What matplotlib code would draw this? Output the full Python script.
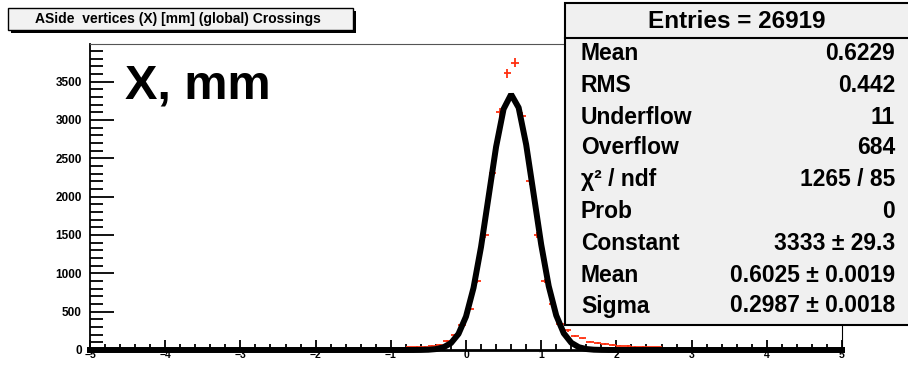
import numpy as np
import matplotlib
matplotlib.use('Agg')
from matplotlib import pyplot as plt
from matplotlib.patches import Rectangle
from matplotlib.ticker import MultipleLocator

plt.rcParams['font.family'] = ['Liberation Sans', 'DejaVu Sans']

# histogram bins (centres, width 0.1) and counts
bin_centres = [-0.75, -0.65, -0.55, -0.45, -0.35, -0.25, -0.15, -0.05,
               0.05, 0.15, 0.25, 0.35, 0.45, 0.55, 0.65, 0.75, 0.85, 0.95,
               1.05, 1.15, 1.25, 1.35, 1.45, 1.55, 1.65, 1.75, 1.85, 1.95,
               2.05, 2.15, 2.25, 2.35, 2.45, 2.55]
counts = [35, 40, 45, 55, 70, 120, 200, 320,
          540, 900, 1500, 2310, 3100, 3610, 3745, 3050, 2200, 1500,
          900, 600, 340, 255, 180, 150, 110, 90, 78, 65,
          58, 52, 45, 42, 38, 35]

# gaussian fit parameters (from the stats box)
fit_const = 3333
fit_mean = 0.6025
fit_sigma = 0.2987

title = 'ASide  vertices (X) [mm] (global) Crossings'
stat_labels = ['Mean', 'RMS', 'Underflow', 'Overflow', 'χ² / ndf', 'Prob',
               'Constant', 'Mean', 'Sigma']
stat_values = ['0.6229', '0.442', '11', '684', '1265 / 85', '0',
               '3333 ± 29.3', '0.6025 ± 0.0019', '0.2987 ± 0.0018']

W, H = 908, 368
def fx(p):
    return p / W
def fy(p):
    return 1 - p / H

fig = plt.figure(figsize=(W / 100, H / 100), dpi=100)
ax = fig.add_axes([fx(90), fy(350), fx(842) - fx(90), fy(44) - fy(350)])

x = np.linspace(-5, 5, 101)
ax.plot(x, fit_const * np.exp(-0.5 * ((x - fit_mean) / fit_sigma) ** 2),
        color='black', lw=4.3, zorder=3, clip_on=False, solid_joinstyle='bevel')
ax.errorbar(bin_centres, counts, xerr=0.05, yerr=np.sqrt(counts), fmt='none',
            ecolor='#ff3010', elinewidth=1.3, capsize=0, zorder=2)

ax.set_xlim(-5, 5)
ax.set_ylim(0, 3990)
ax.xaxis.set_major_locator(MultipleLocator(1))
ax.xaxis.set_minor_locator(MultipleLocator(0.2))
ax.yaxis.set_major_locator(MultipleLocator(500))
ax.yaxis.set_minor_locator(MultipleLocator(100))
ax.tick_params(axis='y', which='major', direction='in', length=17, width=1.3,
               labelsize=8.5, pad=6)
ax.tick_params(axis='y', which='minor', direction='in', length=9, width=1.3)
ax.tick_params(axis='x', which='major', direction='in', length=7, width=1.3,
               labelsize=7.5, pad=0)
ax.tick_params(axis='x', which='minor', direction='in', length=4, width=1.3)
for lab in ax.get_xticklabels() + ax.get_yticklabels():
    lab.set_fontweight('bold')
ax.spines['top'].set_color('#555555')
ax.spines['left'].set_linewidth(1.3)
ax.spines['bottom'].set_linewidth(2)

ax.text(fx(125), fy(98), 'X, mm', transform=fig.transFigure, fontsize=35,
        fontweight='bold', ha='left', va='baseline')

# title box with shadow
fig.patches.append(Rectangle((fx(11), fy(33)), fx(353) - fx(8), fy(8) - fy(30),
                             transform=fig.transFigure, facecolor='black',
                             edgecolor='none', zorder=5))
fig.patches.append(Rectangle((fx(8), fy(30)), fx(353) - fx(8), fy(8) - fy(30),
                             transform=fig.transFigure, facecolor='#f2f2f2',
                             edgecolor='black', lw=1, zorder=6))
fig.text(fx(178), fy(19), title, fontsize=10, fontweight='bold',
         ha='center', va='center', zorder=7)

# stats box
fig.patches.append(Rectangle((fx(565), fy(325)), fx(400), fy(3) - fy(325),
                             transform=fig.transFigure, facecolor='#f0f0f0',
                             edgecolor='black', lw=1.5, zorder=5))
fig.lines.append(plt.Line2D([fx(565), 1], [fy(38), fy(38)],
                            transform=fig.transFigure, color='black', lw=1.5,
                            zorder=6))
fig.text(fx(737), fy(22), 'Entries = 26919', fontsize=17.5, fontweight='bold',
         ha='center', va='center', zorder=7)
row_y = [53, 85, 117, 148, 180, 212, 243, 275, 306]
for yy, lab, val in zip(row_y, stat_labels, stat_values):
    fig.text(fx(581), fy(yy), lab, fontsize=16.5, fontweight='bold',
             ha='left', va='center', zorder=7)
    fig.text(fx(895), fy(yy), val, fontsize=16.5, fontweight='bold',
             ha='right', va='center', zorder=7)

fig.savefig('out.png', dpi=100)
